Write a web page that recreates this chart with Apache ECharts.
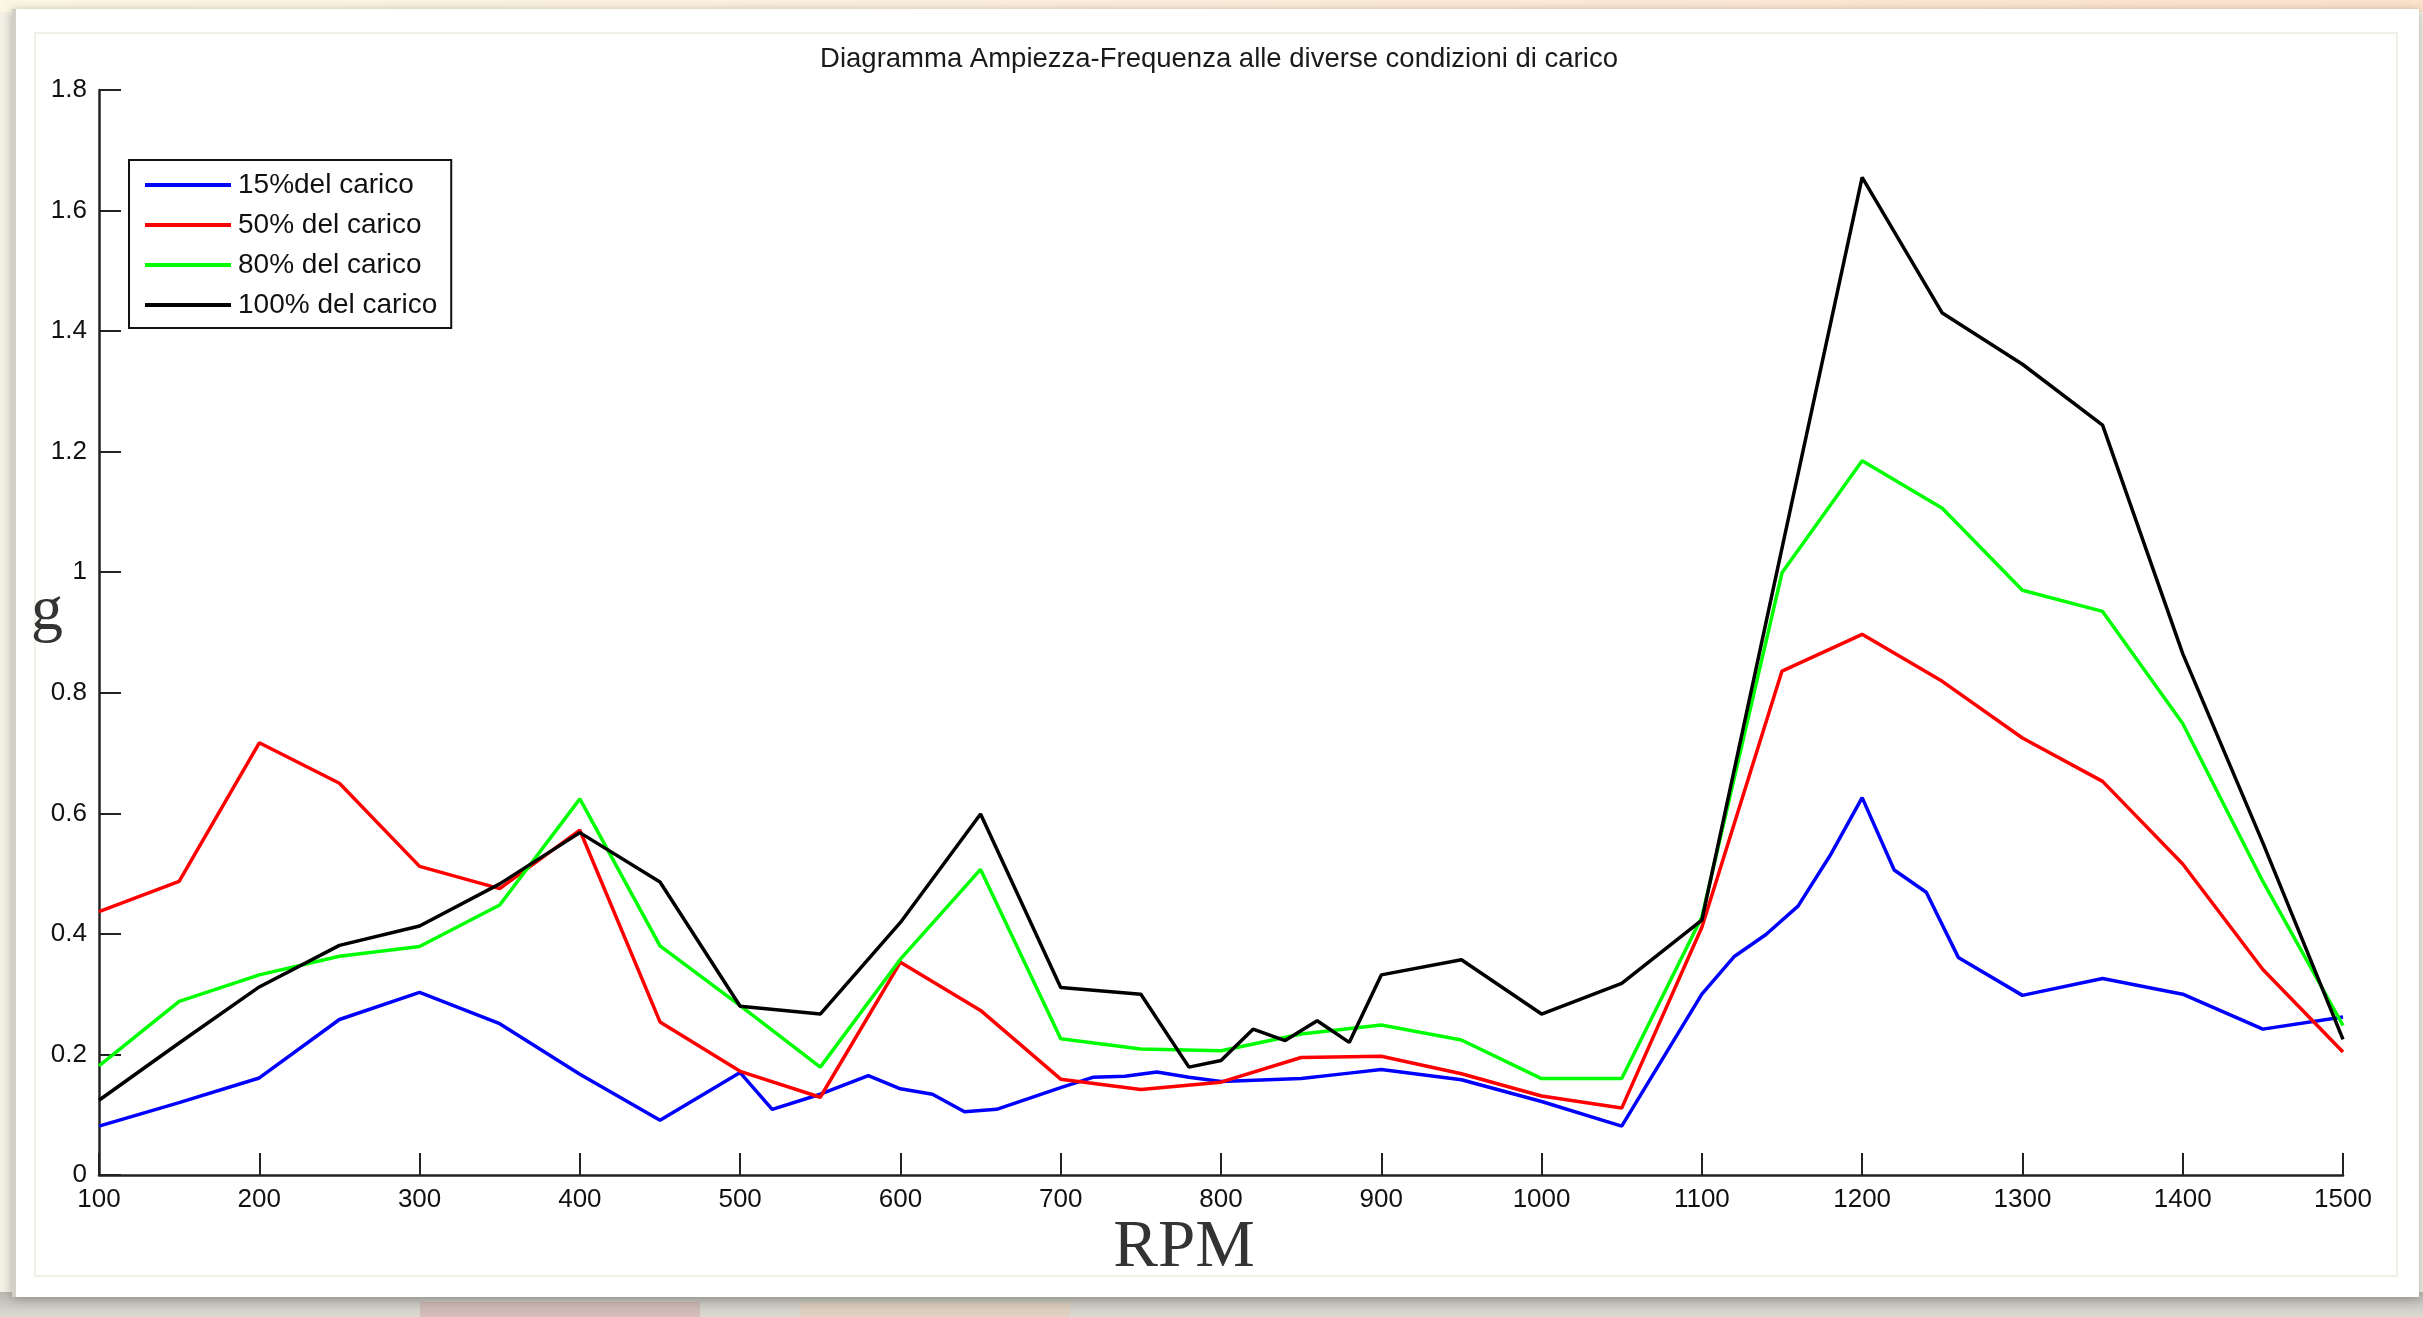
<!DOCTYPE html>
<html>
<head>
<meta charset="utf-8">
<title>Diagramma Ampiezza-Frequenza</title>
<script src="https://cdn.jsdelivr.net/npm/echarts@6/dist/echarts.min.js"></script>
<style>
  html, body { margin: 0; padding: 0; background: #f4f1e6; }
  #chart { width: 2423px; height: 1317px; }
</style>
</head>
<body>
<div id="chart"></div>
<script>
// Amplitude (g) versus engine speed (RPM) at four load conditions
const seriesNames = ['15%del carico', '50% del carico', '80% del carico', '100% del carico'];
const seriesColors = ['#0000ff', '#ff0000', '#00ff00', '#000000'];

// 15% load
const rpm15 = [100,150,200,250,300,350,400,450,500,520,550,580,600,620,640,660,700,720,740,760,780,800,850,880,900,950,1000,1050,1100,1120,1140,1160,1180,1200,1220,1240,1260,1300,1350,1400,1450,1500];
const g15 = [0.081,0.120,0.161,0.258,0.303,0.251,0.167,0.091,0.170,0.109,0.134,0.165,0.143,0.134,0.105,0.109,0.145,0.162,0.164,0.171,0.162,0.155,0.160,0.169,0.175,0.158,0.122,0.081,0.300,0.362,0.399,0.446,0.530,0.626,0.506,0.469,0.361,0.298,0.326,0.300,0.242,0.262];

// 50% load
const rpm50 = [100,150,200,250,300,350,400,450,500,550,600,650,700,750,800,850,900,950,1000,1050,1100,1150,1200,1250,1300,1350,1400,1450,1500];
const g50 = [0.437,0.487,0.717,0.650,0.512,0.475,0.572,0.254,0.172,0.129,0.353,0.273,0.159,0.142,0.154,0.195,0.197,0.168,0.131,0.111,0.411,0.836,0.897,0.819,0.725,0.653,0.516,0.341,0.204];

// 80% load
const rpm80 = [100,150,200,250,300,350,400,450,500,550,600,650,700,750,800,850,900,950,1000,1050,1100,1150,1200,1250,1300,1350,1400,1450,1500];
const g80 = [0.181,0.288,0.332,0.363,0.379,0.448,0.624,0.380,0.281,0.179,0.358,0.507,0.226,0.209,0.206,0.234,0.249,0.224,0.160,0.160,0.428,0.999,1.185,1.106,0.970,0.935,0.749,0.487,0.248];

// 100% load
const rpm100 = [100,150,200,250,300,350,400,450,500,550,600,650,700,750,780,800,820,840,860,880,900,950,1000,1050,1100,1150,1200,1250,1300,1350,1400,1450,1500];
const g100 = [0.124,0.219,0.312,0.381,0.413,0.483,0.568,0.486,0.280,0.267,0.419,0.599,0.311,0.300,0.179,0.190,0.242,0.223,0.256,0.220,0.332,0.357,0.267,0.318,0.423,1.040,1.655,1.430,1.345,1.244,0.865,0.551,0.225];

const rpmSets = [rpm15, rpm50, rpm80, rpm100];
const gSets = [g15, g50, g80, g100];

const titleText = 'Diagramma Ampiezza-Frequenza alle diverse condizioni di carico';
const xName = 'RPM';
const yName = 'g';

const pair = (xs, ys) => xs.map((x, i) => [x, ys[i]]);

const chart = echarts.init(document.getElementById('chart'), null, { renderer: 'canvas' });

const tickFont = { fontFamily: 'Liberation Sans, Arial, sans-serif', fontSize: 26, color: '#111' };

chart.setOption({
  animation: false,
  backgroundColor: 'transparent',
  graphic: [
    // page behind the figure panel
    { type: 'rect', z: -10, silent: true, shape: { x: 0, y: 0, width: 2423, height: 12 },
      style: { fill: new echarts.graphic.LinearGradient(0, 0, 1, 0, [
        { offset: 0, color: '#fcf7e3' }, { offset: 0.45, color: '#fdeedd' }, { offset: 1, color: '#fde2cc' }]) } },
    { type: 'rect', z: -10, silent: true, shape: { x: 0, y: 1292, width: 2423, height: 25 },
      style: { fill: new echarts.graphic.LinearGradient(0, 0, 0, 1, [
        { offset: 0, color: '#b9b9b1' }, { offset: 1, color: '#dcdad3' }]) } },
    { type: 'rect', z: -9, silent: true, shape: { x: 420, y: 1302, width: 280, height: 15 },
      style: { fill: 'rgba(200,130,135,0.30)' } },
    { type: 'rect', z: -9, silent: true, shape: { x: 800, y: 1302, width: 270, height: 15 },
      style: { fill: 'rgba(240,195,160,0.30)' } },
    // figure panel with its shadow
    { type: 'rect', z: -8, silent: true, shape: { x: 12, y: 9, width: 2407, height: 1288 },
      style: { fill: '#ffffff', shadowBlur: 10, shadowColor: 'rgba(80,80,70,0.45)', shadowOffsetX: 0, shadowOffsetY: 2 } },
    { type: 'rect', z: -7, silent: true, shape: { x: 12, y: 9, width: 4, height: 1288 },
      style: { fill: '#d0d0c8' } },
    { type: 'rect', z: -7, silent: true, shape: { x: 35, y: 33, width: 2362, height: 1243 },
      style: { fill: 'none', stroke: '#efefe6', lineWidth: 2 } },
    // title and axis names
    { type: 'text', z: 5, silent: true, x: 1219, y: 59,
      style: { text: titleText, fill: '#1a1a1a', font: '27.5px "Liberation Sans", Arial, sans-serif',
        textAlign: 'center', textVerticalAlign: 'middle' } },
    { type: 'text', z: 5, silent: true, x: 47, y: 612,
      style: { text: yName, fill: '#333', font: '64px "Liberation Serif", "Times New Roman", serif',
        textAlign: 'center', textVerticalAlign: 'middle' } },
    { type: 'text', z: 5, silent: true, x: 1184, y: 1248,
      style: { text: xName, fill: '#333', font: '67px "Liberation Serif", "Times New Roman", serif',
        textAlign: 'center', textVerticalAlign: 'middle' } }
  ],
  grid: { left: 99, top: 90, width: 2244, height: 1085, containLabel: false },
  xAxis: {
    type: 'value', min: 100, max: 1500, interval: 100,
    axisLine: { show: true, lineStyle: { color: '#222', width: 2.5 } },
    axisTick: { show: true, inside: true, length: 22, lineStyle: { color: '#222', width: 2 } },
    axisLabel: Object.assign({ margin: 12, formatter: v => String(v) }, tickFont),
    splitLine: { show: false }
  },
  yAxis: {
    type: 'value', min: 0, max: 1.8, interval: 0.2,
    axisLine: { show: true, lineStyle: { color: '#222', width: 2.5 } },
    axisTick: { show: true, inside: true, length: 22, lineStyle: { color: '#222', width: 2 } },
    axisLabel: Object.assign({ margin: 12 }, tickFont),
    splitLine: { show: false }
  },
  legend: {
    orient: 'vertical', left: 129, top: 160,
    backgroundColor: '#fff', borderColor: '#111', borderWidth: 2, borderRadius: 0,
    padding: [10, 14, 8, 16],
    itemWidth: 86, itemHeight: 4, itemGap: 10,
    icon: 'rect',
    textStyle: { fontFamily: 'Liberation Sans, Arial, sans-serif', fontSize: 28, color: '#111', lineHeight: 30, padding: [0, 0, 0, 2] },
    data: seriesNames
  },
  series: seriesNames.map((name, k) => ({
    name: name,
    type: 'line',
    data: pair(rpmSets[k], gSets[k]),
    showSymbol: false,
    symbol: 'none',
    color: seriesColors[k],
    lineStyle: { color: seriesColors[k], width: 3.5 },
    z: 2 + k
  }))
});
</script>
</body>
</html>
